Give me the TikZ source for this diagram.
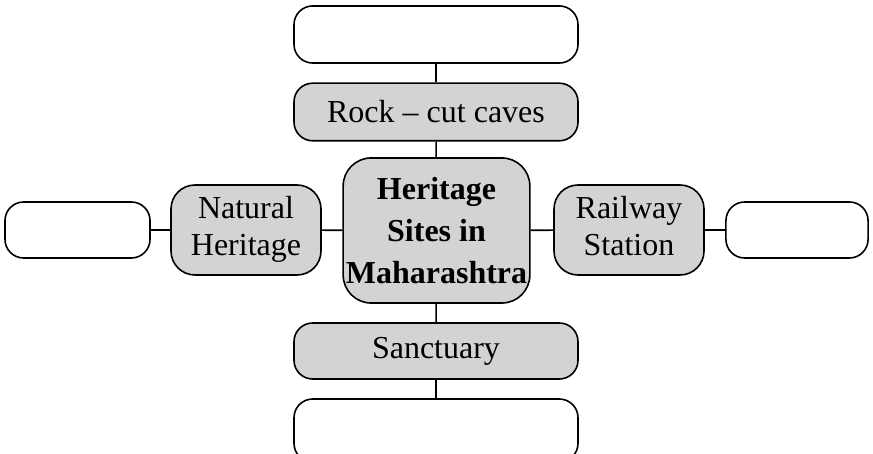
\documentclass[tikz,border=0pt]{standalone}
\usepackage{fontspec}
\setmainfont{Liberation Serif}
\definecolor{boxgray}{RGB}{211,211,211}
\tikzset{
  blank/.style={draw, line width=0.6pt, rounded corners=7pt, inner sep=0pt, fill=white},
  topic/.style={blank, fill=boxgray, align=center, font=\fontsize{12}{13.8}\selectfont},
  hub/.style={topic, rounded corners=10.5pt, font=\fontsize{12}{15.6}\selectfont\bfseries},
}
\begin{document}
\begin{tikzpicture}[x=0.375pt, y=-0.375pt]
      \useasboundingbox (0,0) rectangle (873,454);

      \node[hub, minimum width=70pt, minimum height=54.4pt] (hub) at (436.5,230.5) {Heritage\\Sites in\\Maharashtra};

      \node[topic, minimum width=106.5pt, minimum height=21.6pt] (rock) at (436,112) {Rock -- cut caves};
      \node[topic, minimum width=106.5pt, minimum height=21pt] (sanct) at (436,351) {Sanctuary};
      \node[topic, rounded corners=9pt, minimum width=56.25pt, minimum height=33.75pt] (natural) at (246,230) {\strut Natural\\Heritage\strut};
      \node[topic, rounded corners=9pt, minimum width=56.25pt, minimum height=33.75pt] (railway) at (629,230) {\strut Railway\\Station\strut};

      \node[blank, minimum width=106.5pt, minimum height=21.4pt] (topbox) at (436,34.5) {};
      \node[blank, minimum width=106.5pt, minimum height=23.6pt] (bottombox) at (436,430.5) {};
      \node[blank, minimum width=54.4pt, minimum height=21pt] (leftbox) at (77.5,230) {};
      \node[blank, minimum width=53.3pt, minimum height=21pt] (rightbox) at (797,230) {};

      % \draw[step=50, gray, very thin] (0,0) grid (873,454);
      \draw[line width=0.6pt] (topbox) -- (rock);
      \draw[line width=0.6pt] (rock) -- (hub);
      \draw[line width=0.6pt] (hub) -- (sanct);
      \draw[line width=0.6pt] (sanct) -- (bottombox);
      \draw[line width=0.6pt] (hub) -- (natural);
      \draw[line width=0.6pt] (natural) -- (leftbox);
      \draw[line width=0.6pt] (hub) -- (railway);
      \draw[line width=0.6pt] (railway) -- (rightbox);
\end{tikzpicture}
\end{document}
